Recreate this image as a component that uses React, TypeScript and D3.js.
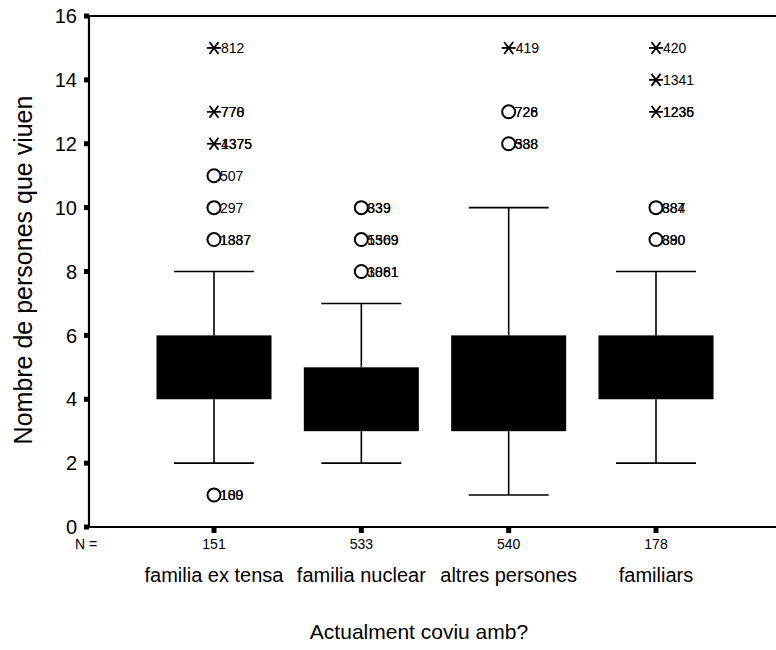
import React from "react";
import * as d3 from "d3";

const categories = ["familia ex tensa", "familia nuclear", "altres persones", "familiars"];
const counts = [151, 533, 540, 178];
const q1 = [4, 3, 3, 4];
const q3 = [6, 5, 6, 6];
const whiskerLow = [2, 2, 1, 2];
const whiskerHigh = [8, 7, 10, 8];
const yTicks = [0, 2, 4, 6, 8, 10, 12, 14, 16];

// outliers: category index, value, kind, labels
const outlierCat = [0, 0, 0, 0, 0, 0, 0, 1, 1, 1, 2, 2, 2, 3, 3, 3, 3, 3];
const outlierVal = [15, 13, 12, 11, 10, 9, 1, 10, 9, 8, 15, 13, 12, 15, 14, 13, 10, 9];
const outlierKind = ["x", "x", "x", "o", "o", "o", "o", "o", "o", "o", "x", "o", "o", "x", "x", "x", "o", "o"];
const outlierLabels = [
  ["812"],
  ["770", "778"],
  ["1375", "4375"],
  ["507"],
  ["297"],
  ["1887", "1337"],
  ["189", "100"],
  ["339", "839"],
  ["1369", "5509"],
  ["1081", "3861"],
  ["419"],
  ["728", "726"],
  ["588", "338"],
  ["420"],
  ["1341"],
  ["1235", "1236"],
  ["887", "384"],
  ["880", "390"],
];

const FONT = "'Liberation Sans', Arial, sans-serif";

export default function App() {
  const W = 776;
  const H = 650;
  const left = 89;
  const right = 800;
  const top = 16;
  const bottom = 527;
  const x = d3.scalePoint<string>().domain(categories).range([214, 656]);
  const y = d3.scaleLinear().domain([0, 16]).range([bottom, top]);
  const boxW = 115;
  const capW = 80;

  return (
    <svg width={W} height={H} style={{ display: "block", position: "absolute", left: 0, top: 0, background: "#fff" }}>
      <rect x={0} y={0} width={W} height={H} fill="#fff" />
      {/* frame */}
      <line x1={left} x2={right} y1={top} y2={top} stroke="#000" strokeWidth={2} />
      <line x1={left} x2={right} y1={bottom} y2={bottom} stroke="#000" strokeWidth={2.2} />
      <line x1={left} x2={left} y1={top} y2={bottom} stroke="#000" strokeWidth={2.2} />
      {/* y ticks */}
      {yTicks.map((t) => (
        <g key={t}>
          <rect x={left - 5} y={y(t) - 2.5} width={5} height={5} fill="#000" />
          <text x={77} y={y(t)} dy="0.36em" textAnchor="end" fontFamily={FONT} fontSize={20} fill="#000">
            {t}
          </text>
        </g>
      ))}
      {/* x ticks */}
      {categories.map((c, i) => (
        <g key={c}>
          <rect x={(x(c) as number) - 2.5} y={bottom + 1} width={5} height={5} fill="#000" />
          <text x={x(c)} y={549} textAnchor="middle" fontFamily={FONT} fontSize={14} fill="#000">
            {counts[i]}
          </text>
          <text x={x(c)} y={582} textAnchor="middle" fontFamily={FONT} fontSize={20} fill="#000">
            {c}
          </text>
        </g>
      ))}
      <text x={86} y={549} textAnchor="middle" fontFamily={FONT} fontSize={14} fill="#000">
        N =
      </text>
      {/* boxes */}
      {categories.map((c, i) => {
        const cx = x(c) as number;
        return (
          <g key={"b" + c}>
            <line x1={cx} x2={cx} y1={y(q3[i])} y2={y(whiskerHigh[i])} stroke="#000" strokeWidth={1.6} />
            <line x1={cx} x2={cx} y1={y(q1[i])} y2={y(whiskerLow[i])} stroke="#000" strokeWidth={1.6} />
            <line x1={cx - capW / 2} x2={cx + capW / 2} y1={y(whiskerHigh[i])} y2={y(whiskerHigh[i])} stroke="#000" strokeWidth={1.6} />
            <line x1={cx - capW / 2} x2={cx + capW / 2} y1={y(whiskerLow[i])} y2={y(whiskerLow[i])} stroke="#000" strokeWidth={1.6} />
            <rect x={cx - boxW / 2} y={y(q3[i])} width={boxW} height={y(q1[i]) - y(q3[i])} fill="#000" />
          </g>
        );
      })}
      {/* outliers */}
      {outlierVal.map((v, k) => {
        const cx = x(categories[outlierCat[k]]) as number;
        const cy = y(v);
        const kind = outlierKind[k];
        return (
          <g key={"o" + k}>
            {kind === "o" ? (
              <circle cx={cx} cy={cy} r={6.5} fill="#fff" stroke="#000" strokeWidth={2} />
            ) : (
              <g stroke="#000" strokeWidth={1.8}>
                <line x1={cx - 7} x2={cx + 7} y1={cy} y2={cy} />
                <line x1={cx - 4.5} x2={cx + 4.5} y1={cy - 6} y2={cy + 6} />
                <line x1={cx - 4.5} x2={cx + 4.5} y1={cy + 6} y2={cy - 6} />
              </g>
            )}
            {outlierLabels[k].map((lab, j) => (
              <text
                key={j}
                x={cx + (kind === "o" ? 6 : 7)}
                y={cy}
                dy="0.36em"
                fontFamily={FONT}
                fontSize={14}
                fill="#000"
              >
                {lab}
              </text>
            ))}
          </g>
        );
      })}
      {/* axis titles */}
      <text
        transform={`translate(32,270) rotate(-90)`}
        textAnchor="middle"
        fontFamily={FONT}
        fontSize={25}
        fill="#000"
      >
        Nombre de persones que viuen
      </text>
      <text x={419} y={639} textAnchor="middle" fontFamily={FONT} fontSize={21} fill="#000">
        Actualment coviu amb?
      </text>
    </svg>
  );
}
